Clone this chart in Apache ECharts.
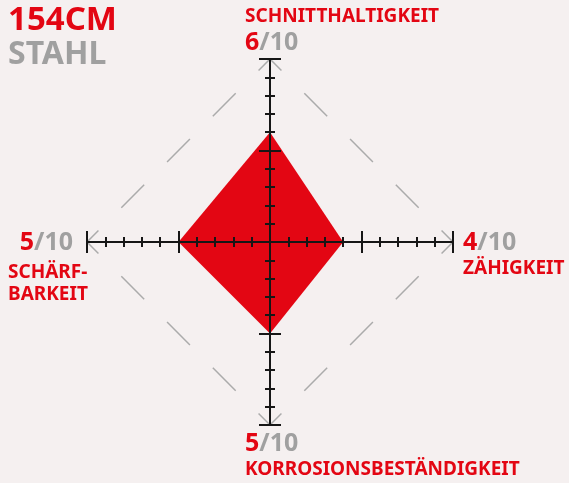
<!DOCTYPE html>
<html>
<head>
<meta charset="utf-8">
<script src="https://cdn.jsdelivr.net/npm/echarts@6/dist/echarts.min.js"></script>
<style>
html, body { margin: 0; padding: 0; background: #f5f0f0; }
#chart { width: 569px; height: 483px; }
</style>
</head>
<body>
<div id="chart"></div>
<script>
// Achsen in Reihenfolge oben, links, unten, rechts
var axisNames = ['SCHNITTHALTIGKEIT', 'SCHÄRF-\nBARKEIT', 'KORROSIONSBESTÄNDIGKEIT', 'ZÄHIGKEIT'];
var values = [6, 5, 5, 4];
var maxValue = 10;
var titleLines = ['154CM', 'STAHL'];

var RED = '#e30613';
var GREY = '#a0a0a0';
var INK = '#161616';
var FONT = '"Noto Sans", sans-serif';

var indicator = axisNames.map(function (n) { return { name: n, max: maxValue, min: 0 }; });
var center = [270, 242];
var radius = 183;
var side = radius * Math.SQRT2;

// radar kennt kein axisTick.inside -> negative Länge für die Gegenseite
function makeRadar(split, tickLen, extra) {
    var r = {
        indicator: indicator,
        center: center,
        radius: radius,
        startAngle: 90,
        shape: 'polygon',
        splitNumber: split,
        z: 3,
        axisName: { show: false },
        axisLabel: { show: false },
        axisLine: { show: false },
        axisTick: { show: true, length: tickLen, lineStyle: { color: INK, width: 2 } },
        splitLine: { show: false },
        splitArea: { show: false }
    };
    return Object.assign(r, extra || {});
}

var radars = [
    makeRadar(10, 5, { axisLine: { show: true, lineStyle: { color: INK, width: 2 } } }),
    makeRadar(10, -5),
    makeRadar(2, 11),
    makeRadar(2, -11),
    makeRadar(1, 0, {
        axisTick: { show: false },
        z: 2,
        splitLine: {
            show: true,
            lineStyle: { color: '#ababab', width: 1.5, type: [side / 8, side / 8], dashOffset: side / 16 }
        }
    })
];

function valueText(v) {
    return '{v|' + v + '}{m|/' + maxValue + '}';
}
var valueRich = {
    v: { fontFamily: FONT, fontWeight: 'bold', fontSize: 25, fill: RED },
    m: { fontFamily: FONT, fontWeight: 'bold', fontSize: 25, fill: GREY }
};
function txt(x, y, text, size, color, align, extra) {
    return {
        type: 'text', x: x, y: y, silent: true,
        style: Object.assign({
            text: text, fontFamily: FONT, fontWeight: 'bold', fontSize: size,
            fill: color, align: align || 'left', verticalAlign: 'middle', lineHeight: 22
        }, extra || {})
    };
}

var graphics = [
    txt(8, 21, titleLines[0], 33, RED, 'left', { lineHeight: 33 }),
    txt(8, 55, titleLines[1], 32, GREY, 'left', { lineHeight: 32 }),
    // oben
    txt(245, 17, axisNames[0], 19, RED),
    txt(245, 43, valueText(values[0]), 25, RED, 'left', { rich: valueRich }),
    // links
    txt(73, 243, valueText(values[1]), 25, RED, 'right', { rich: valueRich }),
    txt(8, 284, axisNames[1], 19, RED),
    // unten
    txt(245, 444, valueText(values[2]), 25, RED, 'left', { rich: valueRich }),
    txt(245, 470, axisNames[2], 19, RED),
    // rechts
    txt(463, 243, valueText(values[3]), 25, RED, 'left', { rich: valueRich }),
    txt(463, 269, axisNames[3], 19, RED)
];

var chart = echarts.init(document.getElementById('chart'));
chart.setOption({
    backgroundColor: '#f5f0f0',
    animation: false,
    radar: radars,
    graphic: graphics,
    series: [{
        type: 'radar',
        radarIndex: 0,
        z: 1,
        silent: true,
        symbol: 'none',
        lineStyle: { width: 0, color: RED },
        areaStyle: { color: RED, opacity: 1 },
        data: [{ value: values }]
    }]
});
</script>
</body>
</html>
